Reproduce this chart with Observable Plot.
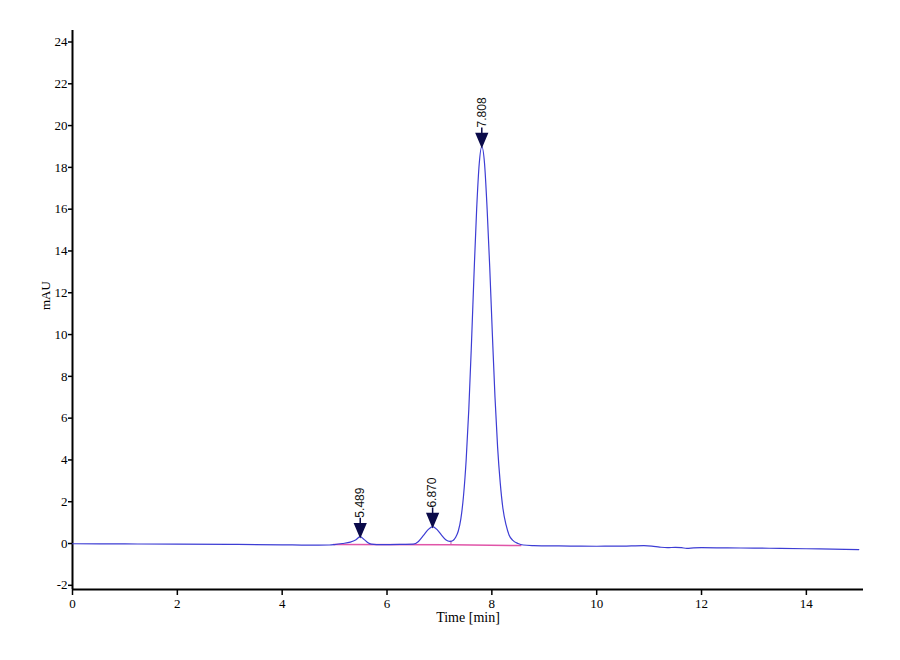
<!DOCTYPE html>
<html>
<head>
<meta charset="utf-8">
<script src="https://cdn.jsdelivr.net/npm/d3@7"></script>
<script src="https://cdn.jsdelivr.net/npm/@observablehq/plot@0.6"></script>
<style>
  html, body { margin: 0; padding: 0; background: #ffffff; }
</style>
</head>
<body>
<div id="chart"></div>
<script>
// Chromatogram trace (time in min, signal in mAU)
const traceTime = [0, 1, 2, 3, 4, 4.5, 4.9, 5.0, 5.15, 5.3, 5.4, 5.489, 5.56, 5.63, 5.7, 5.8, 6.0, 6.3, 6.5, 6.6, 6.7, 6.78, 6.87, 6.96, 7.04, 7.12, 7.2, 7.26, 7.31, 7.36, 7.41, 7.46, 7.51, 7.56, 7.61, 7.66, 7.71, 7.76, 7.808, 7.86, 7.91, 7.96, 8.01, 8.06, 8.11, 8.16, 8.21, 8.27, 8.33, 8.4, 8.5, 8.6, 8.8, 9.0, 9.5, 10.0, 10.5, 10.9, 11.05, 11.2, 11.35, 11.5, 11.62, 11.72, 11.85, 12.0, 12.5, 13.0, 13.5, 14.0, 14.5, 15.0];
const traceValue = [-0.01, -0.02, -0.03, -0.04, -0.06, -0.08, -0.07, -0.05, 0.0, 0.07, 0.17, 0.33, 0.2, 0.05, -0.03, -0.05, -0.05, -0.04, -0.03, 0.1, 0.4, 0.65, 0.81, 0.65, 0.4, 0.18, 0.1, 0.15, 0.3, 0.6, 1.2, 2.3, 4.0, 6.4, 9.5, 12.9, 16.0, 18.2, 19.0, 18.2, 16.0, 13.2, 10.0, 7.0, 4.6, 2.9, 1.7, 0.9, 0.4, 0.15, 0.0, -0.07, -0.1, -0.11, -0.12, -0.13, -0.12, -0.1, -0.12, -0.17, -0.2, -0.18, -0.2, -0.23, -0.21, -0.2, -0.21, -0.22, -0.23, -0.25, -0.27, -0.29];

// Integration baseline (pink)
const baseTime = [4.98, 7.22, 8.55];
const baseValue = [-0.05, -0.06, -0.1];

// Integration split (drop line at the valley)
const dropTime = [7.22];
const dropTop = [0.12];
const dropBottom = [-0.06];

// Peak annotations
const peakTime = [5.489, 6.870, 7.808];
const peakHeight = [0.33, 0.81, 19.0];
const peakLabel = ["5.489", "6.870", "7.808"];

// Axis ticks
const xTicks = [0, 2, 4, 6, 8, 10, 12, 14];
const yTicks = [-2, 0, 2, 4, 6, 8, 10, 12, 14, 16, 18, 20, 22, 24];

const trace = traceTime.map((t, i) => ({t, v: traceValue[i]}));
const base = baseTime.map((t, i) => ({t, v: baseValue[i]}));
const drops = dropTime.map((t, i) => ({t, y1: dropTop[i], y2: dropBottom[i]}));
const peaks = peakTime.map((t, i) => ({t, h: peakHeight[i], label: peakLabel[i]}));

// Downward arrow with a short stem; tip sits on the peak apex
const downArrow = {
  draw(context) {
    context.moveTo(0, 0);
    context.lineTo(-5.5, -13);
    context.lineTo(5.5, -13);
    context.closePath();
    context.moveTo(0, -13);
    context.lineTo(0, -19);
  }
};

const serif = "'Liberation Serif', 'Times New Roman', serif";

const chart = Plot.plot({
  width: 900,
  height: 660,
  marginLeft: 72,
  marginRight: 37,
  marginTop: 30,
  marginBottom: 71,
  x: {domain: [0, 15.09]},
  y: {domain: [-2.2, 24.55]},
  style: {fontFamily: serif, fontSize: "14px", background: "#ffffff", color: "#000000"},
  marks: [
    Plot.axisX({ticks: xTicks, tickSize: 6, tickPadding: 3, tickFormat: d => String(d), label: null, strokeWidth: 1.5, fontFamily: serif, fontSize: 13}),
    Plot.axisY({ticks: yTicks, tickSize: 4, tickPadding: 1, tickFormat: d => String(d), label: null, strokeWidth: 1.5, fontFamily: serif, fontSize: 13}),
    Plot.ruleY([-2.2], {stroke: "#000000", strokeWidth: 2}),
    Plot.ruleX([0], {stroke: "#000000", strokeWidth: 2}),
    Plot.line(base, {x: "t", y: "v", stroke: "#e055a8", strokeWidth: 1.5}),
    Plot.ruleX(drops, {x: "t", y1: "y1", y2: "y2", stroke: "#c05aa8", strokeWidth: 1}),
    Plot.line(trace, {x: "t", y: "v", stroke: "#3d3dd4", strokeWidth: 1.2, curve: "monotone-x"}),
    Plot.dot(peaks, {x: "t", y: "h", symbol: downArrow, r: 6, fill: "#0b0b4a", stroke: "#0b0b4a", strokeWidth: 1.5}),
    Plot.text(peaks, {x: "t", y: "h", text: "label", rotate: -90, textAnchor: "start", dy: -19, fontFamily: "'Liberation Sans', Arial, sans-serif", fontSize: 12, fill: "#111111"}),
    Plot.text(["Time [min]"], {frameAnchor: "bottom", dy: 32, fontSize: 14, fontFamily: serif}),
    Plot.text(["mAU"], {frameAnchor: "left", rotate: -90, dx: -27, fontSize: 13, fontFamily: serif})
  ]
});
document.getElementById("chart").appendChild(chart);
</script>
</body>
</html>
